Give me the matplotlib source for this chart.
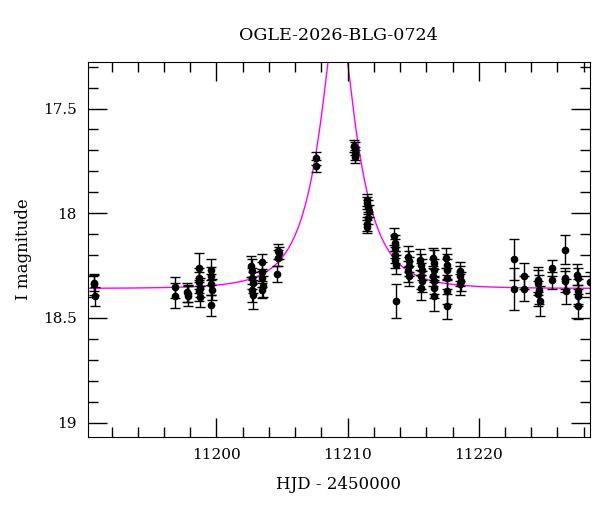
import numpy as np
import matplotlib
matplotlib.use("Agg")
import matplotlib.pyplot as plt
from matplotlib.ticker import MultipleLocator, FormatStrFormatter

plt.rcParams['font.family'] = ['DejaVu Serif']

# observations (HJD - 2450000, I mag, error)
hjd = [11190.65, 11190.65, 11190.7,
       11196.8, 11196.85,
       11197.75, 11197.8, 11197.85,
       11198.65, 11198.7, 11198.7, 11198.75, 11198.7, 11198.75,
       11199.55, 11199.6, 11199.6, 11199.65, 11199.55,
       11202.65, 11202.7, 11202.7, 11202.75, 11202.7, 11202.75,
       11203.45, 11203.5, 11203.5, 11203.55, 11203.5,
       11204.7, 11204.75, 11204.7, 11204.65,
       11207.6, 11207.6,
       11210.5, 11210.55, 11210.6, 11210.6,
       11211.45, 11211.5, 11211.55, 11211.6, 11211.55, 11211.5, 11211.5,
       11213.55, 11213.6, 11213.6, 11213.65, 11213.6, 11213.7, 11213.7,
       11214.6, 11214.65, 11214.7, 11214.6, 11214.65,
       11215.55, 11215.6, 11215.65, 11215.6, 11215.7, 11215.6,
       11216.5, 11216.55, 11216.6, 11216.5, 11216.6, 11216.55, 11216.6,
       11217.5, 11217.55, 11217.6, 11217.55, 11217.6, 11217.6,
       11218.55, 11218.6, 11218.65, 11218.6,
       11222.7, 11222.7,
       11223.45, 11223.45,
       11224.5, 11224.55, 11224.6, 11224.55, 11224.65,
       11225.6, 11225.6,
       11226.55, 11226.6, 11226.6, 11226.65,
       11227.5, 11227.55, 11227.55, 11227.6, 11227.55,
       11228.45]
mag = [18.333, 18.34, 18.397,
       18.354, 18.394,
       18.378, 18.394, 18.386,
       18.26, 18.31, 18.33, 18.357, 18.37, 18.40,
       18.27, 18.30, 18.34, 18.366, 18.44,
       18.254, 18.278, 18.31, 18.333, 18.365, 18.39,
       18.235, 18.283, 18.31, 18.35, 18.365,
       18.183, 18.19, 18.214, 18.29,
       17.738, 17.775,
       17.68, 17.69, 17.714, 17.73,
       17.937, 17.952, 17.97, 17.99, 18.024, 18.052, 18.064,
       18.11, 18.143, 18.167, 18.20, 18.222, 18.246, 18.42,
       18.207, 18.23, 18.254, 18.278, 18.30,
       18.222, 18.246, 18.27, 18.30, 18.326, 18.357,
       18.214, 18.238, 18.27, 18.30, 18.326, 18.357, 18.397,
       18.214, 18.246, 18.27, 18.31, 18.373, 18.445,
       18.278, 18.30, 18.326, 18.34,
       18.221, 18.362,
       18.30, 18.36,
       18.318, 18.333, 18.365, 18.384, 18.42,
       18.262, 18.32,
       18.175, 18.31, 18.326, 18.373,
       18.294, 18.31, 18.373, 18.394, 18.445,
       18.33]
err = [0.04, 0.05, 0.045,
       0.05, 0.06,
       0.045, 0.05, 0.04,
       0.07, 0.05, 0.05, 0.045, 0.05, 0.05,
       0.05, 0.045, 0.05, 0.05, 0.05,
       0.05, 0.06, 0.05, 0.05, 0.06, 0.07,
       0.04, 0.05, 0.045, 0.05, 0.04,
       0.035, 0.03, 0.04, 0.04,
       0.03, 0.03,
       0.03, 0.03, 0.03, 0.03,
       0.03, 0.03, 0.035, 0.03, 0.03, 0.035, 0.03,
       0.04, 0.04, 0.045, 0.04, 0.04, 0.045, 0.08,
       0.05, 0.05, 0.045, 0.05, 0.05,
       0.05, 0.05, 0.05, 0.06, 0.05, 0.06,
       0.05, 0.06, 0.05, 0.05, 0.06, 0.05, 0.07,
       0.05, 0.05, 0.05, 0.05, 0.06, 0.06,
       0.045, 0.05, 0.045, 0.05,
       0.1, 0.1,
       0.06, 0.06,
       0.06, 0.06, 0.07, 0.06, 0.07,
       0.04, 0.04,
       0.07, 0.05, 0.05, 0.06,
       0.05, 0.05, 0.06, 0.05, 0.06,
       0.05]

# point-lens model
t0, tE, u0, I0 = 11209.25, 3.0, 0.30, 18.36

tt = np.linspace(11190, 11229, 4000)
u = np.sqrt(u0**2 + ((tt - t0) / tE)**2)
A = (u**2 + 2) / (u * np.sqrt(u**2 + 4))
model = I0 - 2.5 * np.log10(A)

fig = plt.figure(figsize=(6, 5.12), dpi=100)
ax = fig.add_axes([0.146, 0.147, 0.837, 0.731])

ax.plot(tt, model, color='magenta', lw=1.0, zorder=1)
ax.errorbar(hjd, mag, yerr=err, fmt='o', color='black', ms=4.5,
            elinewidth=1.0, capsize=3.5, capthick=1.0, zorder=2)

ax.set_xlim(11190.17, 11228.47)
ax.set_ylim(19.068, 17.28)

ax.xaxis.set_major_locator(MultipleLocator(10))
ax.xaxis.set_minor_locator(MultipleLocator(2))
ax.yaxis.set_major_locator(MultipleLocator(0.5))
ax.yaxis.set_minor_locator(MultipleLocator(0.1))
ax.yaxis.set_major_formatter(FormatStrFormatter('%g'))
ax.xaxis.set_major_formatter(FormatStrFormatter('%d'))
ax.tick_params(which='both', direction='in', top=True, right=True,
               labelsize=11, width=1.0)
ax.tick_params(which='major', length=14, pad=8)
ax.tick_params(which='minor', length=7)

ax.set_xlabel('HJD - 2450000', fontsize=12, labelpad=10)
ax.set_ylabel('I magnitude', fontsize=12, labelpad=8)
ax.set_title('OGLE-2026-BLG-0724', fontsize=12.6, pad=16)

fig.savefig('out.png', dpi=100)
